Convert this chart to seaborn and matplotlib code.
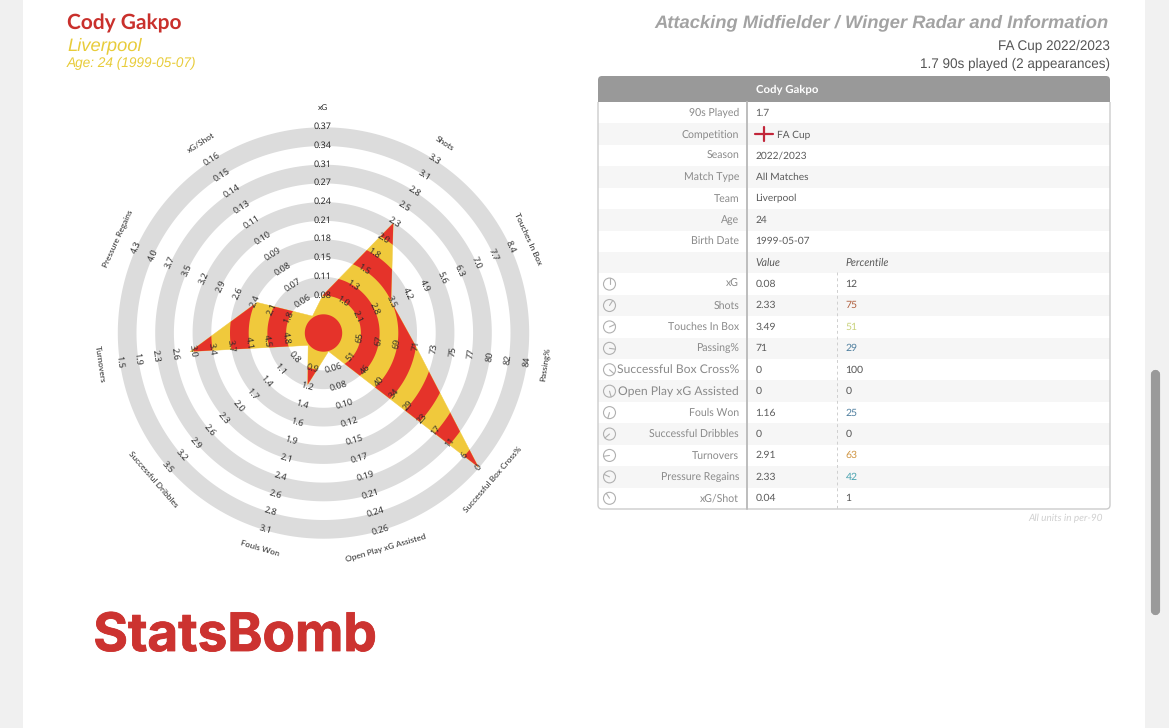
import numpy as np
import pandas as pd
import matplotlib
matplotlib.use("Agg")
import matplotlib.pyplot as plt
import matplotlib.patheffects as pe
from matplotlib.patches import Circle, FancyBboxPatch, Polygon, Rectangle
import seaborn as sns

# ===== data =====
metrics = ["xG", "Shots", "Touches In Box", "Passing%", "Successful Box Cross%",
           "Open Play xG Assisted", "Fouls Won", "Successful Dribbles", "Turnovers",
           "Pressure Regains", "xG/Shot"]
# radar position of each metric in ring units
radar_rings = [2.0, 6.95, 4.0, 5.0, 11.0, 1.05, 2.9, 1.05, 7.18, 3.88, 1.04]

xg_ticks = ["0.08", "0.11", "0.15", "0.18", "0.21", "0.24", "0.27", "0.31", "0.34", "0.37"]
shots_ticks = ["1.0", "1.3", "1.5", "1.8", "2.0", "2.3", "2.5", "2.8", "3.1", "3.3"]
touches_ticks = ["2.1", "2.8", "3.5", "4.2", "4.9", "5.6", "6.3", "7.0", "7.7", "8.4"]
passing_ticks = ["65", "67", "69", "71", "73", "75", "77", "80", "82", "84"]
cross_ticks = ["51", "46", "40", "34", "29", "23", "17", "11", "6", "0"]
assist_ticks = ["0.06", "0.08", "0.10", "0.12", "0.15", "0.17", "0.19", "0.21", "0.24", "0.26"]
fouls_ticks = ["0.9", "1.2", "1.4", "1.6", "1.9", "2.1", "2.4", "2.6", "2.8", "3.1"]
dribbles_ticks = ["0.8", "1.1", "1.4", "1.7", "2.0", "2.3", "2.6", "2.9", "3.2", "3.5"]
turnovers_ticks = ["4.8", "4.5", "4.1", "3.7", "3.4", "3.0", "2.6", "2.3", "1.9", "1.5"]
regains_ticks = ["1.8", "2.1", "2.4", "2.6", "2.9", "3.2", "3.5", "3.7", "4.0", "4.3"]
xgshot_ticks = ["0.06", "0.07", "0.08", "0.09", "0.10", "0.11", "0.13", "0.14", "0.15", "0.16"]
all_ticks = [xg_ticks, shots_ticks, touches_ticks, passing_ticks, cross_ticks, assist_ticks,
             fouls_ticks, dribbles_ticks, turnovers_ticks, regains_ticks, xgshot_ticks]

info_labels = ["90s Played", "Competition", "Season", "Match Type", "Team", "Age", "Birth Date"]
info_values = ["1.7", "FA Cup", "2022/2023", "All Matches", "Liverpool", "24", "1999-05-07"]
table_values = ["0.08", "2.33", "3.49", "71", "0", "0", "1.16", "0", "2.91", "2.33", "0.04"]
table_pcts = ["12", "75", "51", "29", "100", "0", "25", "0", "63", "42", "1"]
pct_colors = ["#555555", "#b0603f", "#c9d27c", "#4f7f9f", "#555555", "#555555",
              "#4f7f9f", "#555555", "#cf9440", "#4aa3b0", "#555555"]

# ===== colours =====
RED = "#e5332a"
YELLOW = "#f0c93c"
BAND = "#dcdcdc"
TXT = "#8a8a8a"
VAL = "#5a5a5a"

sns.set_theme(style="white")
plt.rcParams["font.family"] = ["Lato", "DejaVu Sans"]
plt.rcParams["text.hinting"] = "no_hinting"

W, H = 1169, 728
fig = plt.figure(figsize=(W / 100, H / 100), dpi=100, facecolor="#f0f0f0")

# page layer in pixel coords
page = fig.add_axes([0, 0, 1, 1], zorder=0)
page.set_xlim(0, W)
page.set_ylim(H, 0)
page.axis("off")
page.add_patch(Rectangle((23, 0), 1122, H, fc="white", ec="none"))
page.add_patch(Rectangle((1145, 0), 24, H, fc="#f1f1f1", ec="none"))
page.add_patch(FancyBboxPatch((1153, 372), 5, 241, boxstyle="round,pad=0,rounding_size=2.5",
                              fc="#9a9a9a", ec="#9a9a9a", lw=3))

# --- headings ---
ARIAL = "Liberation Sans"
page.text(67, 23, "Cody Gakpo", color="#c9302c", fontsize=15, weight="bold", va="center")
page.text(67, 45.5, "Liverpool", color="#e8cc3a", fontsize=13.2, style="italic", family=ARIAL, va="center")
page.text(67, 63, "Age: 24 (1999-05-07)", color="#e8cc3a", fontsize=9.8, style="italic", family=ARIAL, va="center")
page.text(1109, 23, "Attacking Midfielder / Winger Radar and Information", color="#a3a3a3",
          fontsize=13.2, style="italic", weight="bold", family=ARIAL, ha="right", va="center")
page.text(1110, 46.5, "FA Cup 2022/2023", color="#555555", fontsize=9.75, family=ARIAL, ha="right", va="center")
page.text(1110, 64.5, "1.7 90s played (2 appearances)", color="#555555", fontsize=9.75, family=ARIAL,
          ha="right", va="center")

# --- table ---
T_L, T_R, T_TOP, T_BOT = 598, 1110, 102, 509
ROW_H = (T_BOT - T_TOP) / 19
row_y = lambda i: T_TOP + ROW_H * (i + 0.5)
page.add_patch(FancyBboxPatch((T_L, 76), T_R - T_L, 60, boxstyle="round,pad=0,rounding_size=4",
                              fc="#999999", ec="none"))
page.add_patch(Rectangle((T_L, T_TOP), T_R - T_L, T_BOT - T_TOP - 5, fc="white", ec="none"))
for i in range(1, 19, 2):
    page.add_patch(Rectangle((T_L, T_TOP + ROW_H * i), T_R - T_L, ROW_H, fc="#f6f6f6", ec="none"))
border = FancyBboxPatch((T_L, 70), T_R - T_L, T_BOT - 70, boxstyle="round,pad=0,rounding_size=4",
                        fc="none", ec="#cccccc", lw=1)
page.add_patch(border)
border.set_clip_path(Rectangle((T_L - 2, T_TOP), T_R - T_L + 4, 420, transform=page.transData))
page.plot([746.7, 746.7], [T_TOP, T_BOT], color="#bdbdbd", lw=1.4)
page.plot([836.7, 836.7], [272, T_BOT], color="#cfcfcf", lw=0.7, ls=(0, (3, 3)))
page.text(787, 89.5, "Cody Gakpo", color="white", fontsize=8.2, weight="bold", ha="center", va="center")

for i, (lab, val) in enumerate(zip(info_labels, info_values)):
    page.text(739, row_y(i), lab, color=TXT, fontsize=7.6, ha="right", va="center")
    x = 777 if lab == "Competition" else 755.5
    page.text(x, row_y(i), val, color=VAL, fontsize=7.3, va="center")
# flag of the competition row
page.plot([755, 773], [row_y(1), row_y(1)], color="#c2263a", lw=1.6)
page.plot([764, 764], [row_y(1) - 7, row_y(1) + 7], color="#c2263a", lw=1.6)
page.text(755.5, row_y(7), "Value", color=VAL, fontsize=7.6, style="italic", va="center")
page.text(845.5, row_y(7), "Percentile", color=VAL, fontsize=7.6, style="italic", va="center")

n = len(metrics)
for i in range(n):
    y = row_y(8 + i)
    big = metrics[i] in ("Successful Box Cross%", "Open Play xG Assisted")
    page.text(739, y, metrics[i], color=TXT, fontsize=8.7 if big else 7.6, ha="right", va="center")
    page.text(755.5, y, table_values[i], color=VAL, fontsize=7.5, va="center")
    page.text(845.5, y, table_pcts[i], color=pct_colors[i], fontsize=7.5, va="center")
    # little clock icon pointing at the metric's radar axis
    a = 2 * np.pi * i / n
    page.add_patch(Circle((609.5, y), 6, fc="none", ec="#b0b0b0", lw=0.8))
    page.plot([609.5, 609.5 + 6 * np.sin(a)], [y, y - 6 * np.cos(a)], color="#b0b0b0", lw=0.8)
page.text(1103, 518, "All units in per-90", color="#d0d0d0", fontsize=7.2, style="italic", ha="right", va="center")

# logo wordmark
page.text(235, 651, "StatsBomb", color="#cc3330", fontsize=38.2, weight="bold", family="Inter",
          ha="center", va="baseline",
          path_effects=[pe.withStroke(linewidth=0.6, foreground="#cc3330")])

# --- radar ---
CX, CY, RING = 323, 332.5, 18.7
R_MAX = 12
R_PX = RING * R_MAX
ax = fig.add_axes([(CX - R_PX) / W, (H - CY - R_PX) / H, 2 * R_PX / W, 2 * R_PX / H],
                  projection="polar", zorder=1)
ax.patch.set_alpha(0)
ax.set_theta_zero_location("N")
ax.set_theta_direction(-1)
ax.set_ylim(0, R_MAX)
ax.axis("off")

angles = np.arange(n) * 2 * np.pi / n
circle_t = np.linspace(0, 2 * np.pi, 361)

for k in range(2, 11, 2):
    ax.fill_between(circle_t, k, k + 1, color=BAND, lw=0, zorder=1)

radar = pd.DataFrame({"theta": np.append(angles, angles[0]),
                      "ring": radar_rings + radar_rings[:1]})
sns.lineplot(data=radar, x="theta", y="ring", sort=False, estimator=None,
             color=YELLOW, lw=0.3, ax=ax, zorder=2, legend=False)
ax.set_ylim(0, R_MAX)
poly = Polygon(radar[["theta", "ring"]].values, closed=True, fc=YELLOW, ec="none", zorder=2,
               transform=ax.transData)
ax.add_patch(poly)
for k in range(2, 11, 2):
    stripe = ax.fill_between(circle_t, k, k + 1, color=RED, lw=0, zorder=3)
    stripe.set_clip_path(poly)
ax.fill_between(circle_t, 0, 1, color=RED, lw=0, zorder=4)


def text_rotation(theta):
    deg = np.degrees(theta)
    return -deg + 180 if 90 < deg < 270 else -deg


for a, name, ticks in zip(angles, metrics, all_ticks):
    rot = text_rotation(a)
    for k, t in enumerate(ticks, start=2):
        ax.text(a, k, t, fontsize=6.5, family="Noto Sans", color="#2a2a2a", rotation=rot,
                rotation_mode="anchor", ha="center", va="center", zorder=5, clip_on=False)
    ax.text(a, 12.03, name, fontsize=6.0, color="#2a2a2a", rotation=rot, rotation_mode="anchor",
            ha="center", va="center", zorder=5, clip_on=False)

fig.savefig("out.png", dpi=100, facecolor=fig.get_facecolor())
